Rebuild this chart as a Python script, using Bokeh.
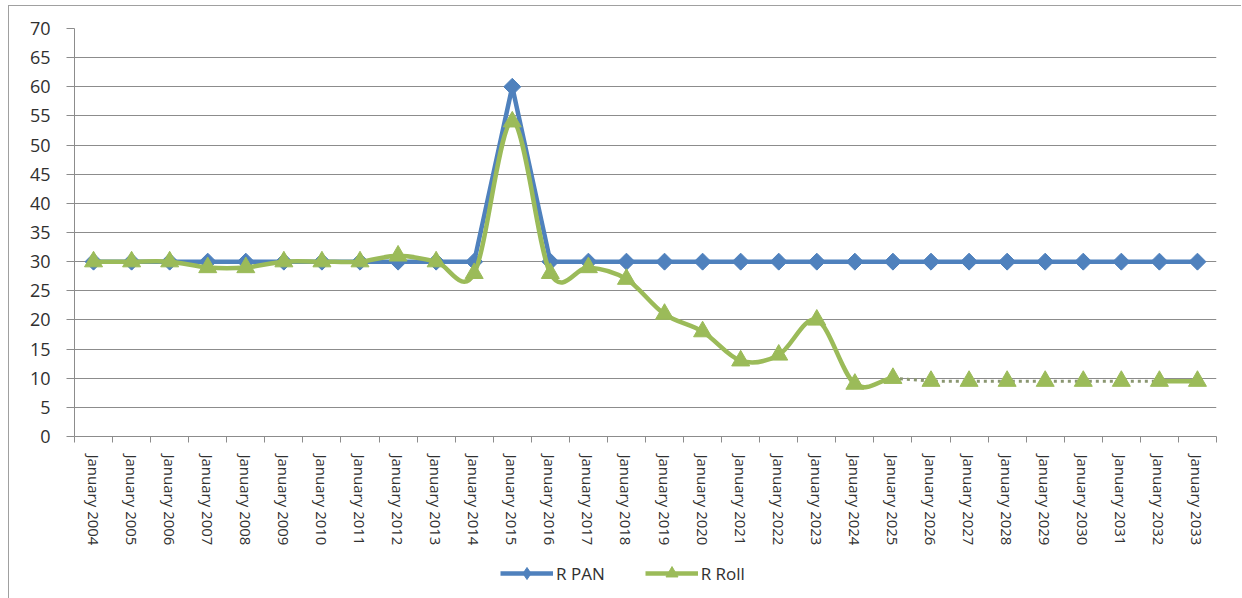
import numpy as np
from bokeh.plotting import figure
from bokeh.layouts import column
from bokeh.models import FixedTicker, Range1d, Legend, LegendItem
from bokeh.embed import file_html
from bokeh.resources import INLINE

# ---- data ----
years = [2004, 2005, 2006, 2007, 2008, 2009, 2010, 2011, 2012, 2013,
         2014, 2015, 2016, 2017, 2018, 2019, 2020, 2021, 2022, 2023,
         2024, 2025, 2026, 2027, 2028, 2029, 2030, 2031, 2032, 2033]
x_labels = ["January %d" % y for y in years]
r_pan = [30, 30, 30, 30, 30, 30, 30, 30, 30, 30,
         30, 60, 30, 30, 30, 30, 30, 30, 30, 30,
         30, 30, 30, 30, 30, 30, 30, 30, 30, 30]
r_roll = [30, 30, 30, 29, 29, 30, 30, 30, 31, 30,
          28, 54, 28, 29, 27, 21, 18, 13, 14, 20,
          9, 10, 9.5, 9.5, 9.5, 9.5, 9.5, 9.5, 9.5, 9.5]
y_ticks = [0, 5, 10, 15, 20, 25, 30, 35, 40, 45, 50, 55, 60, 65, 70]
legend_labels = ["R PAN", "R Roll"]

BLUE = "#4f81bd"
GREEN = "#9bbb59"
GRID = "#8c8c8c"
TXT = "#303030"
FONT = "Open Sans"

xs = list(range(len(years)))

p = figure(width=1232, height=542, output_backend="svg", toolbar_location=None,
           x_range=Range1d(-0.5, len(years) - 0.5), y_range=Range1d(0, 70),
           min_border_left=65, min_border_right=25, min_border_top=22,
           min_border_bottom=112, background_fill_color="white",
           border_fill_color="white")
p.outline_line_color = None

# axes
p.xgrid.visible = False
p.ygrid.grid_line_color = GRID
p.ygrid.grid_line_width = 1
p.ygrid.ticker = FixedTicker(ticks=y_ticks)

p.yaxis.ticker = FixedTicker(ticks=y_ticks)
p.yaxis.axis_line_color = GRID
p.yaxis.major_tick_line_color = GRID
p.yaxis.major_tick_out = 8
p.yaxis.major_tick_in = 0
p.yaxis.minor_tick_line_color = None
p.yaxis.major_label_standoff = 16
p.yaxis.major_label_text_font = FONT
p.yaxis.major_label_text_font_size = "18px"
p.yaxis.major_label_text_color = TXT

p.xaxis.ticker = FixedTicker(ticks=xs, minor_ticks=[i - 0.5 for i in range(len(years) + 1)])
p.xaxis.major_label_overrides = {i: lab for i, lab in enumerate(x_labels)}
p.xaxis.major_label_orientation = "vertical"
p.xaxis.axis_line_color = GRID
p.xaxis.major_tick_line_color = None
p.xaxis.major_tick_out = 0
p.xaxis.major_tick_in = 0
p.xaxis.minor_tick_line_color = GRID
p.xaxis.minor_tick_out = 6
p.xaxis.minor_tick_in = 0
p.xaxis.major_label_standoff = 12
p.xaxis.major_label_text_font = FONT
p.xaxis.major_label_text_font_size = "15px"
p.xaxis.major_label_text_color = TXT

# R PAN: straight line with diamonds
p.line(xs, r_pan, line_color=BLUE, line_width=4.5, line_join="round")
p.scatter(xs, r_pan, marker="square", angle=np.pi / 4, size=12,
          fill_color=BLUE, line_color=BLUE)

# R Roll: smoothed solid part (2004..2025), dotted (2025..2032), solid (2032..2033)
xr = np.array(xs, dtype=float)
yr = np.array(r_roll, dtype=float)
n_smooth = years.index(2025) + 1
x0, y0, x1, y1, cx0, cy0, cx1, cy1 = [], [], [], [], [], [], [], []
N = len(xr)
for i in range(n_smooth - 1):
    a = max(i - 1, 0)
    d = min(i + 2, N - 1)
    px0, py0 = xr[a], yr[a]
    px1, py1 = xr[i], yr[i]
    px2, py2 = xr[i + 1], yr[i + 1]
    px3, py3 = xr[d], yr[d]
    x0.append(px1); y0.append(py1); x1.append(px2); y1.append(py2)
    cx0.append(px1 + (px2 - px0) / 6.0); cy0.append(py1 + (py2 - py0) / 6.0)
    cx1.append(px2 - (px3 - px1) / 6.0); cy1.append(py2 - (py3 - py1) / 6.0)
p.bezier(x0=x0, y0=y0, x1=x1, y1=y1, cx0=cx0, cy0=cy0, cx1=cx1, cy1=cy1,
         line_color=GREEN, line_width=4.5, line_cap="round")
i25 = years.index(2025)
i32 = years.index(2032)
p.line(xs[i25:i32 + 1], r_roll[i25:i32 + 1], line_color="#8a9670", line_width=3,
       line_dash="3 4")
p.line(xs[i32:], r_roll[i32:], line_color=GREEN, line_width=4.5)
p.scatter(xs, r_roll, marker="triangle", size=18, fill_color=GREEN, line_color=GREEN)

# ---- legend strip below the chart (series drawn off-view, only the legend shows) ----
lg = figure(width=1232, height=50, output_backend="svg", toolbar_location=None,
            x_axis_location=None, y_axis_location=None,
            x_range=Range1d(-0.5, len(years) - 0.5), y_range=Range1d(200, 300),
            min_border_left=65, min_border_right=25, min_border_top=0, min_border_bottom=0,
            background_fill_color="white", border_fill_color="white")
lg.outline_line_color = None
lg.xgrid.visible = False
lg.ygrid.visible = False
l1 = lg.line(xs, r_pan, line_color=BLUE, line_width=4.5)
m1 = lg.scatter(xs, r_pan, marker="diamond", size=13,
                fill_color=BLUE, line_color=BLUE)
l2 = lg.line(xs, r_roll, line_color=GREEN, line_width=4.5)
m2 = lg.scatter(xs, r_roll, marker="triangle", size=12, fill_color=GREEN, line_color=GREEN)
legend = Legend(items=[LegendItem(label=legend_labels[0], renderers=[l1, m1]),
                       LegendItem(label=legend_labels[1], renderers=[l2, m2])],
                location=(426, 10), orientation="horizontal",
                glyph_width=53, glyph_height=30, label_standoff=3, spacing=40,
                padding=0, margin=0, border_line_alpha=0, background_fill_alpha=0,
                label_text_font=FONT, label_text_font_size="17px",
                label_text_color=TXT)
lg.add_layout(legend)

layout = column(p, lg, spacing=0,
                styles={"margin-left": "8px", "margin-top": "5px",
                        "border-left": "1px solid #a0a0a0", "border-top": "1px solid #a0a0a0"})
open("out.html", "w").write(file_html(layout, INLINE))
